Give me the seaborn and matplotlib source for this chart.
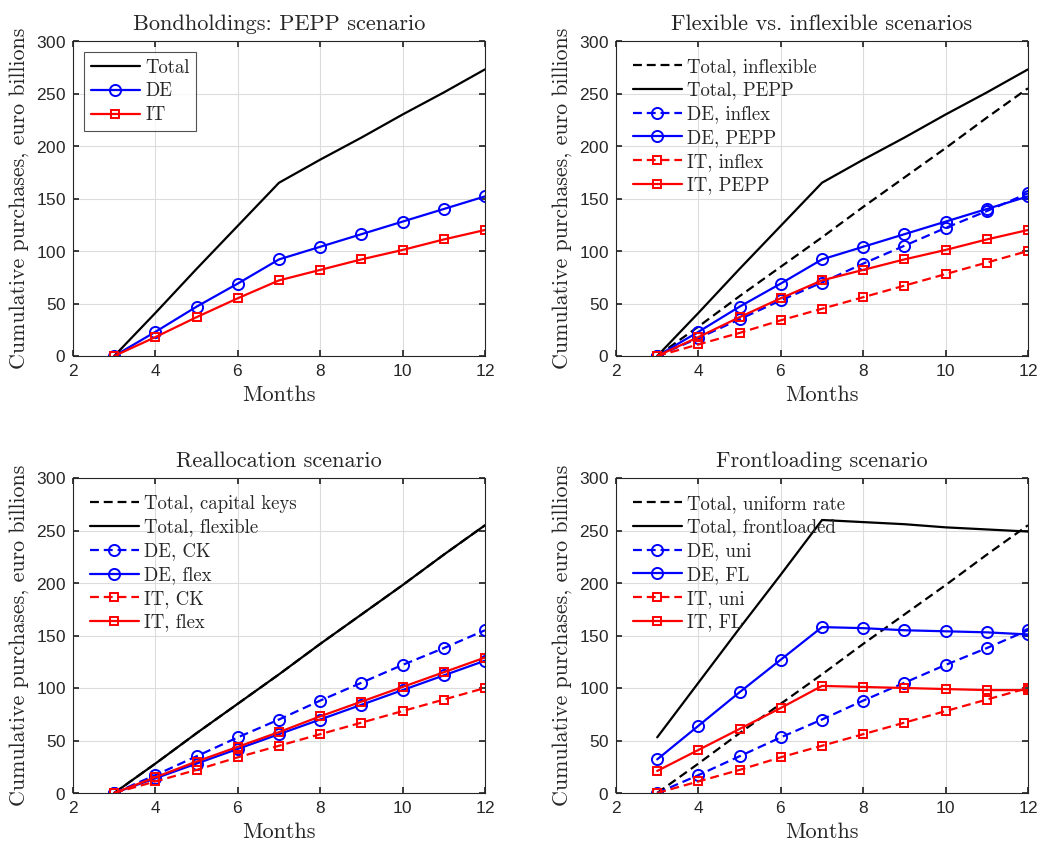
import numpy as np
import pandas as pd
import matplotlib
matplotlib.use("Agg")
import matplotlib.pyplot as plt
import seaborn as sns

# Months on the x axis
months = [3, 4, 5, 6, 7, 8, 9, 10, 11, 12]

# PEPP scenario
total_pepp = [0, 41, 83, 124, 165, 187, 208, 230, 251, 273]
de_pepp = [0, 23, 47, 69, 92, 104, 116, 128, 140, 152]
it_pepp = [0, 18, 37, 55, 72, 82, 92, 101, 111, 120]

# Inflexible / capital keys / uniform rate (same path)
total_ck = [0, 28, 57, 85, 113, 142, 170, 198, 227, 255]
de_ck = [0, 17, 35, 53, 70, 88, 105, 122, 138, 155]
it_ck = [0, 11, 22, 34, 45, 56, 67, 78, 89, 100]

# Reallocation scenario, flexible
total_flex = [0, 28, 57, 85, 113, 142, 170, 198, 227, 255]
de_flex = [0, 14, 28, 42, 56, 70, 84, 98, 112, 126]
it_flex = [0, 15, 30, 44, 58, 73, 87, 101, 115, 129]

# Frontloading scenario
total_fl = [53, 105, 157, 208, 260, 258, 256, 253, 251, 249]
de_fl = [32, 64, 96, 127, 158, 157, 155, 154, 153, 151]
it_fl = [21, 41, 61, 81, 102, 101, 100, 99, 98, 98]

titles = ["Bondholdings: PEPP scenario",
          "Flexible vs. inflexible scenarios",
          "Reallocation scenario",
          "Frontloading scenario"]

sns.set_theme(style="ticks")
plt.rcParams["font.family"] = ["cmr10", "DejaVu Serif"]
plt.rcParams["axes.formatter.use_mathtext"] = True

BLUE = "#0000ff"
RED = "#ff0000"
BLACK = "#000000"
DASH = (0, (4.0, 2.2))


def series(label, y, color, ls, marker=None):
    return dict(label=label, y=y, color=color, ls=ls, marker=marker)


panels = [
    [series("Total", total_pepp, BLACK, "-"),
     series("DE", de_pepp, BLUE, "-", "o"),
     series("IT", it_pepp, RED, "-", "s")],
    [series("Total, inflexible", total_ck, BLACK, DASH),
     series("Total, PEPP", total_pepp, BLACK, "-"),
     series("DE, inflex", de_ck, BLUE, DASH, "o"),
     series("DE, PEPP", de_pepp, BLUE, "-", "o"),
     series("IT, inflex", it_ck, RED, DASH, "s"),
     series("IT, PEPP", it_pepp, RED, "-", "s")],
    [series("Total, capital keys", total_ck, BLACK, DASH),
     series("Total, flexible", total_flex, BLACK, "-"),
     series("DE, CK", de_ck, BLUE, DASH, "o"),
     series("DE, flex", de_flex, BLUE, "-", "o"),
     series("IT, CK", it_ck, RED, DASH, "s"),
     series("IT, flex", it_flex, RED, "-", "s")],
    [series("Total, uniform rate", total_ck, BLACK, DASH),
     series("Total, frontloaded", total_fl, BLACK, "-"),
     series("DE, uni", de_ck, BLUE, DASH, "o"),
     series("DE, FL", de_fl, BLUE, "-", "o"),
     series("IT, uni", it_ck, RED, DASH, "s"),
     series("IT, FL", it_fl, RED, "-", "s")],
]

W, H = 1037, 844
fig = plt.figure(figsize=(W / 100, H / 100), dpi=100)

# axes boxes in pixels: left, top, right, bottom
boxes = [(73, 41, 485, 356), (616, 41, 1028, 356),
         (73, 478, 485, 793), (616, 478, 1028, 793)]

for k, (l, t, r, b) in enumerate(boxes):
    ax = fig.add_axes([l / W, 1 - b / H, (r - l) / W, (b - t) / H])
    for s in panels[k]:
        msize = 8 if s["marker"] == "o" else 5.5
        sns.lineplot(x=months, y=s["y"], ax=ax, color=s["color"],
                     linestyle=s["ls"], marker=s["marker"],
                     markersize=msize, markerfacecolor="none",
                     markeredgecolor=s["color"], markeredgewidth=1.4,
                     linewidth=1.6, label=s["label"])
    ax.set_xlim(2, 12)
    ax.set_ylim(0, 300)
    ax.set_xticks([2, 4, 6, 8, 10, 12])
    ax.set_yticks([0, 50, 100, 150, 200, 250, 300])
    ax.grid(True, color="#dcdcdc", linewidth=0.8)
    ax.tick_params(direction="in", top=True, right=True, length=4,
                   color="#262626", labelsize=12.4, labelcolor="#262626",
                   pad=5)
    for lab in ax.get_xticklabels() + ax.get_yticklabels():
        lab.set_family("Liberation Sans")
    for sp in ax.spines.values():
        sp.set_color("#262626")
        sp.set_linewidth(0.8)
    ax.set_title(titles[k], fontsize=16.1, pad=8)
    ax.set_xlabel("Months", fontsize=16, labelpad=5)
    ax.set_ylabel("Cumulative purchases, euro billions", fontsize=15.8,
                  labelpad=5)
    leg = ax.legend(loc="upper left", fontsize=13.5, handlelength=2.6,
                    handletextpad=0.3, labelspacing=0.31, borderpad=0.35,
                    borderaxespad=0.6 if k == 0 else 0.55,
                    frameon=(k == 0), fancybox=False, numpoints=1)
    if k == 0:
        leg.get_frame().set_edgecolor("#262626")
        leg.get_frame().set_linewidth(0.8)

fig.savefig("out.png", dpi=100)
